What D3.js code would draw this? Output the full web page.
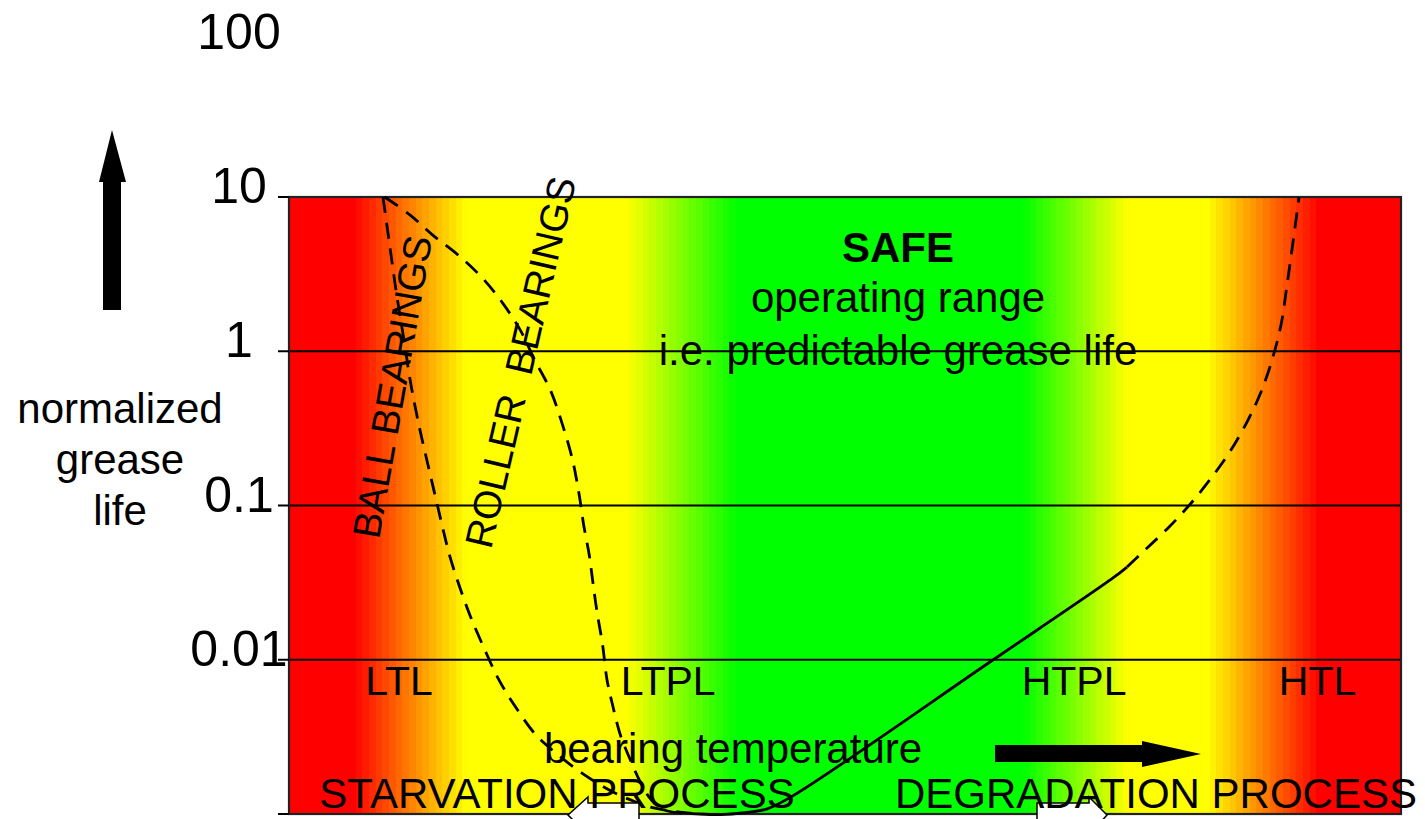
<!DOCTYPE html>
<html>
<head>
<meta charset="utf-8">
<script src="https://cdn.jsdelivr.net/npm/d3@7"></script>
<style>
  html, body { margin: 0; padding: 0; background: #ffffff; }
  svg { display: block; font-family: "Liberation Sans", Arial, Helvetica, sans-serif; }
</style>
</head>
<body>
<svg id="chart" width="1425" height="819"></svg>
<script>
// Temperature is on a relative 0–100 scale (no numeric axis is shown).
// Background temperature zones: red (too cold / too hot), yellow (caution), green (safe)
const zoneTemps  = [0, 5.8, 16.0, 30.4, 40.3, 66.0, 75.4, 82.6, 92.7, 100];
const zoneColors = ["#ff0000", "#ff0000", "#ffff00", "#ffff00", "#00ff00",
                    "#00ff00", "#ffff00", "#ffff00", "#ff0000", "#ff0000"];

// Normalized grease life axis
const lifeTicks  = [0.001, 0.01, 0.1, 1, 10];
const lifeLabels = [0.01, 0.1, 1, 10, 100];
const gridLevels = [0.01, 0.1, 1];

// Temperature limits
const limitNames = ["LTL", "LTPL", "HTPL", "HTL"];
const limitTemps = [9.9, 34.1, 70.6, 92.5];

// Low-temperature starvation limit, ball bearings (temperature, life)
const ballTemp = [8.45, 8.99, 9.62, 10.34, 10.97, 11.78, 12.50, 13.13, 13.76, 14.48, 15.38, 16.37, 17.54, 18.88, 20.32, 22.21, 24.10, 26.44, 28.96, 31.12, 32.91, 35.16, 36.96];
const ballLife = [10, 5.26, 2.49, 1.18, 0.604, 0.308, 0.183, 0.117, 0.0748, 0.0464, 0.0292, 0.01866, 0.01191, 0.0074, 0.00501, 0.00325, 0.00245, 0.00182, 0.00141, 0.0012, 0.00109, 0.00103, 0.001];

// Low-temperature starvation limit, roller bearings (temperature, life)
const rollerTemp = [8.6, 10.9, 12.9, 15.2, 17.4, 19.2, 20.8, 22.1, 23.5, 24.6, 25.5, 26.1, 26.5, 27.0, 27.3, 27.7, 28.2, 28.6, 29.1, 29.8, 30.7, 31.6, 32.6, 33.8, 36.96];
const rollerLife = [10, 7.64, 5.68, 4.21, 2.98, 2.06, 1.37, 0.877, 0.561, 0.333, 0.197, 0.117, 0.0748, 0.0478, 0.0329, 0.0204, 0.01247, 0.0074, 0.00509, 0.00325, 0.00224, 0.00161, 0.00123, 0.00106, 0.001];

// Predictable grease life in the operating range (temperature, life)
const safeTemp = [36.96, 38.8, 41.0, 43.0, 45.3, 63.3, 74.1, 75.36];
const safeLife = [0.001, 0.00099, 0.00102, 0.00108, 0.00131, 0.00996, 0.0339, 0.0399];

// High-temperature degradation limit (temperature, life)
const hotTemp = [75.36, 77.07, 79.23, 81.21, 83.00, 84.71, 86.24, 87.41, 88.40, 89.21, 89.75, 90.29, 90.83];
const hotLife = [0.0399, 0.0522, 0.0736, 0.1054, 0.153, 0.229, 0.358, 0.544, 0.877, 1.48, 2.69, 5.10, 10];

const svg = d3.select("#chart");
const plot = { left: 289, right: 1401, top: 197, bottom: 814 };

const x = d3.scaleLinear().domain([0, 100]).range([plot.left, plot.right]);
const y = d3.scaleLog().domain([0.001, 10]).range([plot.bottom, plot.top]);

// Stepped colour bands for the temperature zones
const zoneColor = d3.scaleLinear().domain(zoneTemps).range(zoneColors).interpolate(d3.interpolateRgb);
const bandStep = 0.6;
const bands = d3.range(0, 100, bandStep);
svg.append("g")
  .selectAll("rect")
  .data(bands)
  .join("rect")
  .attr("x", t => x(t))
  .attr("y", y(10))
  .attr("width", t => Math.min(x(t + bandStep), plot.right) - x(t) + 0.6)
  .attr("height", y(0.001) - y(10))
  .attr("fill", t => zoneColor(Math.min(t + bandStep / 2, 100)))
  .attr("shape-rendering", "crispEdges");

// Horizontal decade lines
svg.append("g")
  .selectAll("line")
  .data(gridLevels)
  .join("line")
  .attr("x1", plot.left).attr("x2", plot.right)
  .attr("y1", d => y(d)).attr("y2", d => y(d))
  .attr("stroke", "#000").attr("stroke-width", 2.2);

// Frame
svg.append("rect")
  .attr("x", plot.left).attr("y", y(10))
  .attr("width", plot.right - plot.left)
  .attr("height", y(0.001) - y(10))
  .attr("fill", "none").attr("stroke", "#222").attr("stroke-width", 2.2);

// Y axis ticks and labels
const axis = svg.append("g");
axis.selectAll("line.tick")
  .data(lifeTicks)
  .join("line")
  .attr("class", "tick")
  .attr("x1", plot.left - 11).attr("x2", plot.left)
  .attr("y1", d => y(d)).attr("y2", d => y(d))
  .attr("stroke", "#000").attr("stroke-width", 2);
axis.selectAll("text")
  .data(lifeLabels)
  .join("text")
  .attr("x", 239)
  .attr("y", d => y(d) + 6)
  .attr("text-anchor", "middle")
  .attr("font-size", 50)
  .text(d => d3.format("~g")(d));

// Axis title
svg.append("text")
  .attr("text-anchor", "middle")
  .attr("font-size", 42)
  .selectAll("tspan")
  .data(["normalized", "grease", "life"])
  .join("tspan")
  .attr("x", 120)
  .attr("y", (d, i) => 423 + i * 51)
  .text(d => d);

// Up arrow next to the axis title
svg.append("path")
  .attr("d", "M103,310 L103,182 L99,182 L112,130 L126,182 L121,182 L121,310 Z")
  .attr("fill", "#000");

// Curves
const line = d3.line().x(d => x(d[0])).y(d => y(d[1])).curve(d3.curveCatmullRom.alpha(0.5));
const curves = [
  { t: ballTemp, v: ballLife, dash: "16,10" },
  { t: rollerTemp, v: rollerLife, dash: "16,10" },
  { t: safeTemp, v: safeLife, dash: null },
  { t: hotTemp, v: hotLife, dash: "16,10" }
];
svg.append("g")
  .selectAll("path")
  .data(curves)
  .join("path")
  .attr("d", c => line(d3.zip(c.t, c.v)))
  .attr("fill", "none")
  .attr("stroke", "#000")
  .attr("stroke-width", 2.8)
  .attr("stroke-dasharray", c => c.dash);

// White process arrows along the temperature axis
svg.append("path")
  .attr("d", "M568,815 L588,797 L588,803 L639,803 L639,829 L588,829 L588,835 Z")
  .attr("fill", "#fff").attr("stroke", "#000").attr("stroke-width", 1.5);
svg.append("path")
  .attr("d", "M1107,815 L1089,797 L1089,803 L1037,803 L1037,829 L1089,829 L1089,835 Z")
  .attr("fill", "#fff").attr("stroke", "#000").attr("stroke-width", 1.5);

// Right arrow: increasing temperature
svg.append("path")
  .attr("d", "M995,745 L1142,745 L1142,741 L1201,754 L1142,767 L1142,762 L995,762 Z")
  .attr("fill", "#000");

// Curve labels
svg.append("text")
  .attr("transform", "translate(379,540) rotate(-80)")
  .attr("font-size", 39)
  .text("BALL BEARINGS");
svg.append("text")
  .attr("transform", "translate(491,550) rotate(-77)")
  .attr("font-size", 39)
  .style("white-space", "pre")
  .text("ROLLER  BEARINGS");

// Safe zone annotation
svg.append("text")
  .attr("x", 898).attr("y", 262)
  .attr("text-anchor", "middle")
  .attr("font-size", 42).attr("font-weight", "bold")
  .text("SAFE");
svg.append("text")
  .attr("x", 898).attr("y", 312)
  .attr("text-anchor", "middle")
  .attr("font-size", 42)
  .text("operating range");
svg.append("text")
  .attr("x", 898).attr("y", 365)
  .attr("text-anchor", "middle")
  .attr("font-size", 42)
  .text("i.e. predictable grease life");

// Temperature limit labels
svg.append("g")
  .selectAll("text")
  .data(limitNames)
  .join("text")
  .attr("x", (d, i) => x(limitTemps[i]))
  .attr("y", 695)
  .attr("text-anchor", "middle")
  .attr("font-size", 41)
  .text(d => d);

// Temperature axis caption and process labels
svg.append("text")
  .attr("x", 733).attr("y", 763)
  .attr("text-anchor", "middle")
  .attr("font-size", 42)
  .text("bearing temperature");
svg.append("text")
  .attr("x", 557).attr("y", 808)
  .attr("text-anchor", "middle")
  .attr("font-size", 42)
  .text("STARVATION PROCESS");
svg.append("text")
  .attr("x", 1156).attr("y", 808)
  .attr("text-anchor", "middle")
  .attr("font-size", 42)
  .text("DEGRADATION PROCESS");
</script>
</body>
</html>
